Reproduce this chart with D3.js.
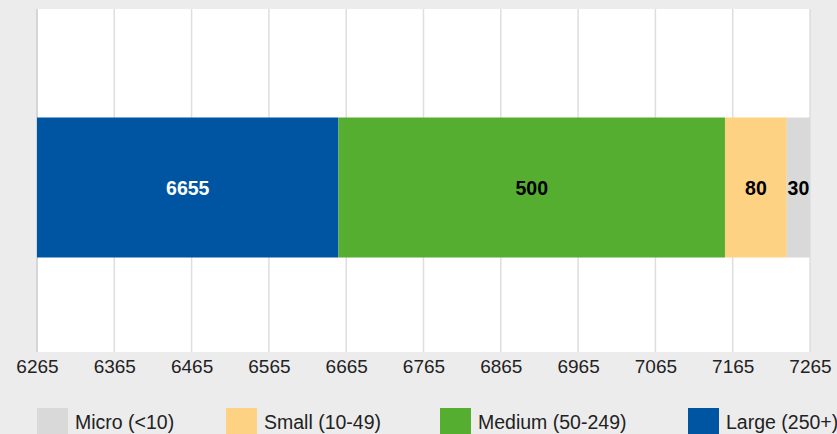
<!DOCTYPE html>
<html><head><meta charset="utf-8">
<script src="https://cdn.jsdelivr.net/npm/d3@7"></script>
<style>
html,body{margin:0;padding:0;background:#ececec;}
svg{display:block;font-family:"Liberation Sans",Arial,Helvetica,sans-serif;}
</style></head>
<body>
<script>
// Data
const categories = ["Large (250+)", "Medium (50-249)", "Small (10-49)", "Micro (<10)"];
const values = [6655, 500, 80, 30];
const colors = ["#0055a2", "#56ae31", "#fdd283", "#d9d9d9"];
const labelColors = ["#ffffff", "#000000", "#000000", "#000000"];
const tickValues = [6265, 6365, 6465, 6565, 6665, 6765, 6865, 6965, 7065, 7165, 7265];
const legendOrder = ["Micro (<10)", "Small (10-49)", "Medium (50-249)", "Large (250+)"];

const W = 837, H = 434;
const plot = {left: 37, right: 810, top: 9, bottom: 352};
const svg = d3.select("body").append("svg").attr("width", W).attr("height", H);
svg.append("rect").attr("width", W).attr("height", H).attr("fill", "#ececec");

const x = d3.scaleLinear().domain([6265, 7265]).range([plot.left, plot.right]);
const y = d3.scaleBand().domain(["row"]).range([plot.top + 14, plot.bottom]).paddingInner(0).paddingOuter(0.675);

svg.append("clipPath").attr("id", "clip").append("rect")
  .attr("x", plot.left).attr("y", plot.top).attr("width", plot.right - plot.left).attr("height", plot.bottom - plot.top);

svg.append("rect").attr("x", plot.left).attr("y", plot.top)
  .attr("width", plot.right - plot.left).attr("height", plot.bottom - plot.top).attr("fill", "#ffffff");

// gridlines
svg.append("g").selectAll("line").data(tickValues).join("line")
  .attr("x1", d => x(d)).attr("x2", d => x(d))
  .attr("y1", plot.top).attr("y2", plot.bottom)
  .attr("stroke", (d, i) => i === 0 ? "#d6d6d6" : "#dedede")
  .attr("stroke-width", (d, i) => i === 0 ? 2 : 1.5);

// stacked segments
let acc = 0;
const segs = values.map((v, i) => { const s = {start: acc, end: acc + v, v, i}; acc += v; return s; });

const g = svg.append("g").attr("clip-path", "url(#clip)");
g.selectAll("rect").data(segs).join("rect")
  .attr("x", d => x(Math.max(d.start, 6265)))
  .attr("width", d => x(d.end) - x(Math.max(d.start, 6265)))
  .attr("y", y("row")).attr("height", y.bandwidth())
  .attr("fill", d => colors[d.i]);

svg.append("g").selectAll("text").data(segs).join("text")
  .attr("x", d => (x(Math.max(d.start, 6265)) + x(d.end)) / 2)
  .attr("y", y("row") + y.bandwidth() / 2)
  .attr("dy", "0.36em")
  .attr("text-anchor", "middle")
  .attr("font-weight", "bold").attr("font-size", 19.5)
  .attr("fill", d => labelColors[d.i])
  .text(d => d.v);

// axis
const axis = d3.axisBottom(x).tickValues(tickValues).tickSize(0).tickPadding(8).tickFormat(d3.format("d"));
const ax = svg.append("g").attr("transform", `translate(0,${plot.bottom})`).call(axis);
ax.select(".domain").remove();
ax.selectAll("text").attr("font-size", 19).attr("fill", "#222").attr("font-family", "Liberation Sans, Arial, sans-serif");

// legend
const legendX = [37, 226, 440, 688];
const lg = svg.append("g").selectAll("g").data(legendOrder).join("g")
  .attr("transform", (d, i) => `translate(${legendX[i]},408)`);
lg.append("rect").attr("width", 31).attr("height", 31)
  .attr("fill", d => colors[categories.indexOf(d)]);
lg.append("text").attr("x", 38).attr("y", 21).attr("font-size", 19.5).attr("fill", "#222").text(d => d);
</script>
</body></html>
